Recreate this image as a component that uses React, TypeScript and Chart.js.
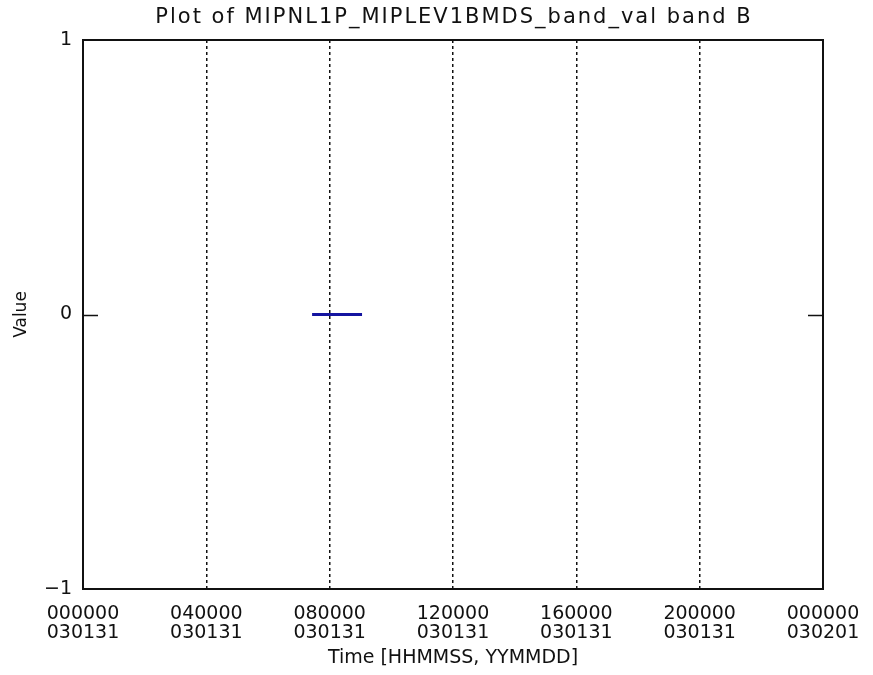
import React, { useEffect, useRef } from 'react';
import { Chart, registerables } from 'chart.js';

Chart.register(...registerables);

const titleText = 'Plot of MIPNL1P_MIPLEV1BMDS_band_val band B';
const xAxisTitle = 'Time [HHMMSS, YYMMDD]';
const yAxisTitle = 'Value';

const xTickHours = [0, 4, 8, 12, 16, 20, 24];
const xTickTimes = ['000000', '040000', '080000', '120000', '160000', '200000', '000000'];
const xTickDates = ['030131', '030131', '030131', '030131', '030131', '030131', '030201'];
const yTickValues = [-1, 0, 1];

const seriesHours = [7.43, 9.05];
const seriesValues = [0, 0];

const FONT = '"DejaVu Sans", sans-serif';

const titlePlugin = {
  id: 'spacedTitle',
  afterDraw(chart: any) {
    const { ctx, chartArea } = chart;
    ctx.save();
    ctx.font = `normal 21px ${FONT}`;
    (ctx as any).letterSpacing = '2px';
    ctx.fillStyle = '#111';
    ctx.textAlign = 'center';
    ctx.textBaseline = 'middle';
    ctx.fillText(titleText, (chartArea.left + chartArea.right) / 2 + 1, 18);
    (ctx as any).letterSpacing = '0px';
    ctx.restore();
  },
};

const framePlugin = {
  id: 'frame',
  afterDatasetsDraw(chart: any) {
    const { ctx, chartArea } = chart;
    const { left, right, top, bottom } = chartArea;
    const y = chart.scales.y;
    ctx.save();
    ctx.strokeStyle = '#111';
    ctx.lineWidth = 2;
    ctx.setLineDash([]);
    ctx.strokeRect(left, top, right - left, bottom - top);
    ctx.lineWidth = 1.5;
    y.ticks.forEach((t: any) => {
      if (t.value === y.min || t.value === y.max) return;
      const py = Math.round(y.getPixelForValue(t.value)) + 0.5;
      ctx.beginPath();
      ctx.moveTo(left, py);
      ctx.lineTo(left + 15, py);
      ctx.moveTo(right, py);
      ctx.lineTo(right - 15, py);
      ctx.stroke();
    });
    ctx.restore();
  },
};

export default function App() {
  const ref = useRef<HTMLCanvasElement | null>(null);

  useEffect(() => {
    if (!ref.current) return;
    const chart = new Chart(ref.current, {
      type: 'line',
      data: {
        datasets: [
          {
            data: seriesHours.map((h, i) => ({ x: h, y: seriesValues[i] })),
            borderColor: '#1414a0',
            borderWidth: 3,
            pointRadius: 0,
            fill: false,
            tension: 0,
          },
        ],
      },
      options: {
        animation: false,
        responsive: true,
        maintainAspectRatio: false,
        layout: { padding: { left: 0, right: 50, top: 40, bottom: 0 } },
        plugins: {
          legend: { display: false },
          tooltip: { enabled: false },
          title: { display: false },
        },
        scales: {
          x: {
            type: 'linear',
            min: 0,
            max: 24,
            afterBuildTicks: (s: any) => {
              s.ticks = xTickHours.map((v) => ({ value: v }));
            },
            afterFit: (s: any) => {
              s.height = 86;
              s.paddingRight = 0;
              s.paddingLeft = 0;
            },
            ticks: {
              autoSkip: false,
              maxRotation: 0,
              padding: 16,
              color: '#111',
              font: { family: FONT, size: 19, lineHeight: 1.0 },
              callback: (_v: any, i: number) => [xTickTimes[i], xTickDates[i]],
            },
            grid: {
              drawTicks: false,
              lineWidth: 1.5,
              color: (c: any) =>
                c.tick && (c.tick.value === 0 || c.tick.value === 24) ? 'rgba(0,0,0,0)' : '#111',
            },
            border: { display: false, dash: [3, 3] },
            title: {
              display: true,
              text: xAxisTitle,
              color: '#111',
              font: { family: FONT, size: 19 },
              padding: { top: 0, bottom: 6 },
            },
          },
          y: {
            type: 'linear',
            min: -1,
            max: 1,
            afterBuildTicks: (s: any) => {
              s.ticks = yTickValues.map((v) => ({ value: v }));
            },
            afterFit: (s: any) => {
              s.width = 83;
            },
            ticks: {
              padding: 11,
              color: '#111',
              font: { family: FONT, size: 19 },
              callback: (v: any) => String(v).replace('-', '\u2212'),
            },
            grid: { display: false, drawTicks: false },
            border: { display: false },
            title: {
              display: true,
              text: yAxisTitle,
              color: '#111',
              font: { family: FONT, size: 17 },
              padding: { top: 11, bottom: 0 },
            },
          },
        },
      },
      plugins: [framePlugin, titlePlugin],
    });
    return () => chart.destroy();
  }, []);

  return (
    <div style={{ position: 'fixed', left: 0, top: 0, width: 873, height: 675, background: '#fff' }}>
      <canvas ref={ref} />
    </div>
  );
}
